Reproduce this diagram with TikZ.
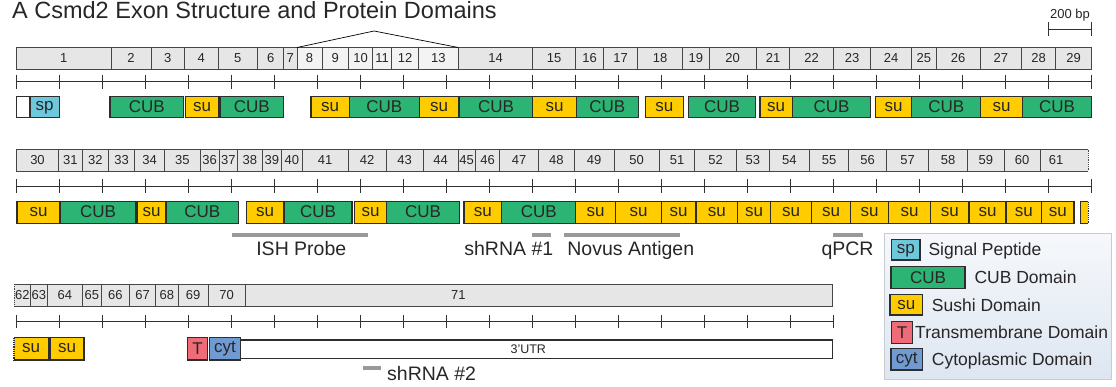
\documentclass[tikz,border=0pt]{standalone}
\usepackage{fontspec}
\setmainfont{Liberation Sans}
\definecolor{txt}{RGB}{40,38,38}
\definecolor{exline}{RGB}{70,70,70}
\definecolor{exfill}{RGB}{230,230,230}
\definecolor{exlight}{RGB}{243,243,243}
\definecolor{domline}{RGB}{45,45,45}
\definecolor{cubc}{RGB}{43,180,115}
\definecolor{suc}{RGB}{255,204,0}
\definecolor{spc}{RGB}{109,200,220}
\definecolor{tmc}{RGB}{240,107,120}
\definecolor{cytc}{RGB}{111,155,210}
\definecolor{rulc}{RGB}{50,50,50}
\definecolor{barc}{RGB}{153,153,153}
\definecolor{legtop}{RGB}{246,248,251}
\definecolor{legbot}{RGB}{221,230,241}
\definecolor{legline}{RGB}{200,204,210}
\begin{document}
\begin{tikzpicture}[x=1pt,y=-1pt,
  exon/.style={draw=exline,fill=exfill,line width=0.8pt},
  exlt/.style={exon,fill=exlight},
  num/.style={text=txt,font=\fontsize{13}{13}\selectfont,inner sep=0pt},
  dom/.style={draw=domline,line width=1.2pt},
  cub/.style={dom,fill=cubc},
  su/.style={dom,fill=suc},
  spd/.style={dom,fill=spc},
  tmd/.style={dom,fill=tmc},
  cytd/.style={dom,fill=cytc},
  wht/.style={dom,fill=white},
  dlab/.style={text=txt,font=\fontsize{17}{17}\selectfont,inner sep=0pt},
  ruler/.style={draw=rulc,line width=0.8pt},
  bar/.style={draw=barc,line width=4pt},
  ann/.style={text=txt,font=\fontsize{19.5}{19.5}\selectfont,inner sep=0pt,anchor=base},
  legtxt/.style={text=txt,font=\fontsize{17.5}{17.5}\selectfont,inner sep=0pt,anchor=base west},
]
\useasboundingbox (0,0) rectangle (1116,386);

% title
\node[anchor=base west,font=\fontsize{23.5}{23.5}\selectfont,text=txt,inner sep=0pt] (title) at (12,18) {A Csmd2 Exon Structure and Protein Domains};

% scale bar
\draw[ruler] (1048.3,29) -- (1091.7,29);
\draw[ruler] (1048.3,22.3) -- (1048.3,35.7);
\draw[ruler] (1091.7,22.3) -- (1091.7,35.7);
\node[anchor=base,text=txt,font=\fontsize{13}{13}\selectfont,inner sep=0pt] (scale) at (1070,18.3) {200 bp};

% ---------- row 1 exons ----------
\foreach \a/\b/\l/\s in {16.3/111/1/exon,111/151/2/exon,151/184.7/3/exon,184.7/218/4/exon,218/257.7/5/exon,257.7/283.7/6/exon,283.7/297/7/exon,297/322/8/exlt,322/348.7/9/exlt,348.7/372.7/10/exlt,372.7/391.7/11/exlt,391.7/418.3/12/exlt,418.3/458.3/13/exlt,458.3/532.7/14/exon,532.7/575.7/15/exon,575.7/603.7/16/exon,603.7/637.3/17/exon,637.3/682.7/18/exon,682.7/709/19/exon,709/756.3/20/exon,756.3/789.7/21/exon,789.7/833.3/22/exon,833.3/870.7/23/exon,870.7/911.3/24/exon,911.3/936.3/25/exon,936.3/980/26/exon,980/1021.7/27/exon,1021.7/1055.3/28/exon,1055.3/1091.7/29/exon}{
  \draw[\s] (\a,47.5) rectangle (\b,69);
  \node[num] (ex\l) at ({(\a+\b)/2},58.3) {\l};
}
\draw[line width=0.7pt,draw=black] (297,47.5) -- (374,31) -- (458.3,47.5);

% ruler 1
\draw[ruler] (16.3,81.7) -- (1091.7,81.7);
\foreach \i in {0,...,25}{\draw[ruler] ({16.3+43.015*\i},74.5) -- ++(0,14);}

% domains row 1
\draw[wht] (16.3,96.5) rectangle (30,117.5);
\draw[spd] (30,96.5) rectangle (59.3,117.5);
\node[dlab] (spA) at (44.7,108) {sp};
\foreach \a/\b/\s/\l [count=\i] in {110/183.7/cub/CUB,185.7/218.3/su/su,220/283.7/cub/CUB,311/349.3/su/su,349.3/419.3/cub/CUB,419.3/458.7/su/su,459.3/532.7/cub/CUB,532.7/576.3/su/su,576.3/638.3/cub/CUB,645.3/683.3/su/su,688.3/755.7/cub/CUB,760/792.3/su/su,792.3/870.7/cub/CUB,875.7/911.7/su/su,911.7/980.7/cub/CUB,980.7/1022.3/su/su,1022.3/1091.7/cub/CUB}{
  \draw[\s] (\a,96.5) rectangle (\b,117.5);
  \node[dlab] (da\i) at ({(\a+\b)/2},107) {\l};
}

% ---------- row 2 exons ----------
\foreach \a/\b/\l in {16.3/58.7/30,58.7/82/31,82/108.7/32,108.7/134.7/33,134.7/164.7/34,164.7/200/35,200/219/36,219/237.7/37,237.7/262/38,262/281.7/39,281.7/302/40,302/348.3/41,348.3/386/42,386/423/43,423/458/44,458/475.3/45,475.3/499.7/46,499.7/538.3/47,538.3/574.3/48,574.3/614/49,614/659.3/50,659.3/694.7/51,694.7/736.7/52,736.7/769/53,769/809.7/54,809.7/848.7/55,848.7/886.7/56,886.7/928.7/57,928.7/967.3/58,967.3/1004.3/59,1004.3/1040/60,1040/1072.3/61}{
  \draw[exon] (\a,149.5) rectangle (\b,171);
  \node[num] (ex\l) at ({(\a+\b)/2},160.3) {\l};
}
\fill[exfill] (1072.3,149.5) rectangle (1088.3,171);
\draw[draw=exline,line width=0.8pt] (1072.3,149.5) -- (1088.3,149.5) (1072.3,171) -- (1088.3,171);
\draw[draw=exline,line width=0.8pt,densely dotted] (1088.3,149.5) -- (1088.3,171);

% ruler 2
\draw[ruler] (16.3,186) -- (1091,186);
\foreach \i in {0,...,24}{\draw[ruler] ({16.3+43.015*\i},179.3) -- ++(0,14);}
\draw[ruler] (1091,179.3) -- ++(0,14);

% domains row 2
\foreach \a/\b/\s/\l [count=\i] in {17/60/su/su,60/136/cub/CUB,137.3/166/su/su,166/238.7/cub/CUB,246.3/284/su/su,284/352/cub/CUB,354.3/386.7/su/su,386.7/459.3/cub/CUB,464/501.7/su/su,501.7/575.7/cub/CUB,575.7/615.7/su/su,615.7/661.3/su/su,661.3/696/su/su,696/737.7/su/su,737.7/770.3/su/su,770.3/811.7/su/su,811.7/850.3/su/su,850.3/888.7/su/su,888.7/930.7/su/su,930.7/969/su/su,969/1006/su/su,1006/1041.7/su/su,1041.7/1074/su/su}{
  \draw[\s] (\a,201.5) rectangle (\b,223.3);
  \node[dlab] (db\i) at ({(\a+\b)/2},212) {\l};
}
\fill[suc] (1080.7,201.5) rectangle (1088.3,223.3);
\draw[draw=domline,line width=1.2pt] (1088.3,201.5) -- (1080.7,201.5) -- (1080.7,223.3) -- (1088.3,223.3);
\draw[draw=domline,line width=1.2pt,densely dotted] (1088.3,201.5) -- (1088.3,223.3);

% annotations row 2
\coordinate (ishL) at (232.3,234.5); \coordinate (ishR) at (367.7,234.5);
\draw[bar] (ishL) -- (ishR);
\node[ann] (ish) at (301.3,255) {ISH Probe};
\coordinate (sh1L) at (532.3,234.5); \coordinate (sh1R) at (551,234.5);
\draw[bar] (sh1L) -- (sh1R);
\node[ann] (sh1) at (508.8,255) {shRNA \#1};
\coordinate (novL) at (564,234.5); \coordinate (novR) at (680,234.5);
\draw[bar] (novL) -- (novR);
\node[ann] (nov) at (630.8,255) {Novus Antigen};
\coordinate (qL) at (833,234.5); \coordinate (qR) at (863,234.5);
\draw[bar] (qL) -- (qR);
\node[ann] (qpcr) at (847.5,255) {qPCR};

% ---------- row 3 exons ----------
\fill[exfill] (14,284) rectangle (30.7,306);
\draw[draw=exline,line width=0.8pt] (14,284) -- (30.7,284) -- (30.7,306) -- (14,306);
\draw[draw=exline,line width=0.8pt,densely dotted] (14,284) -- (14,306);
\node[num] (ex62) at (22.3,295.3) {62};
\foreach \a/\b/\l in {30.7/47/63,47/82.7/64,82.7/101/65,101/129.7/66,129.7/155.7/67,155.7/178/68,178/208/69,208/245.3/70}{
  \draw[exon] (\a,284) rectangle (\b,306);
  \node[num] (ex\l) at ({(\a+\b)/2},295.3) {\l};
}
\draw[exon] (245.3,284) rectangle (832.3,306);
\node[num] (ex71) at (458.3,295.3) {71};

% ruler 3
\draw[ruler] (16.3,321.7) -- (833.6,321.7);
\foreach \i in {0,...,19}{\draw[ruler] ({16.3+43.015*\i},315) -- ++(0,13.3);}

% domains row 3
\fill[suc] (14,337.5) rectangle (48.3,360);
\draw[draw=domline,line width=1.2pt] (14,337.5) -- (48.3,337.5) -- (48.3,360) -- (14,360);
\draw[draw=domline,line width=1.2pt,densely dotted] (14,337.5) -- (14,360);
\node[dlab] (dc1) at (31.2,348) {su};
\draw[su] (50,337.5) rectangle (84,360);
\node[dlab] (dc2) at (67,348) {su};
\draw[tmd] (187.3,337.5) rectangle (207.7,360);
\node[dlab] (dT) at (197.5,349) {T};
\draw[cytd] (209.3,337.5) rectangle (240.7,360);
\node[dlab] (dcyt) at (225,348.5) {cyt};
\draw[wht] (240.7,340) rectangle (832.7,358.3);
\node[num,font=\fontsize{12.5}{12.5}\selectfont] (utr) at (528.3,349.2) {3'UTR};

% shRNA #2
\coordinate (sh2L) at (362.7,367.7); \coordinate (sh2R) at (380.7,367.7);
\draw[bar] (sh2L) -- (sh2R);
\node[ann,anchor=base west] (sh2) at (387,380) {shRNA \#2};

% ---------- legend ----------
\path[shade,top color=legtop,bottom color=legbot,draw=legline,line width=0.8pt] (884,233.3) rectangle (1111.7,379.3);
\draw[spd] (891.7,239.3) rectangle (920,260);
\node[dlab] (lsp) at (905.8,250.5) {sp};
\node[legtxt] (lspt) at (928.3,255) {Signal Peptide};
\draw[cub] (891,266.7) rectangle (965,288.3);
\node[dlab] (lcub) at (928,277.5) {CUB};
\node[legtxt] (lcubt) at (974.3,283.3) {CUB Domain};
\draw[su] (890,294.3) rectangle (922.7,315);
\node[dlab] (lsu) at (906.3,304.7) {su};
\node[legtxt] (lsut) at (931.7,311.7) {Sushi Domain};
\draw[tmd] (891.7,321.7) rectangle (912.3,343.3);
\node[dlab] (ltm) at (902,333) {T};
\node[legtxt] (ltmt) at (915,338.3) {Transmembrane Domain};
\draw[cytd] (891,348.3) rectangle (922.7,370);
\node[dlab] (lcyt) at (906.8,359.5) {cyt};
\node[legtxt] (lcytt) at (931.7,365) {Cytoplasmic Domain};
\end{tikzpicture}
\end{document}
